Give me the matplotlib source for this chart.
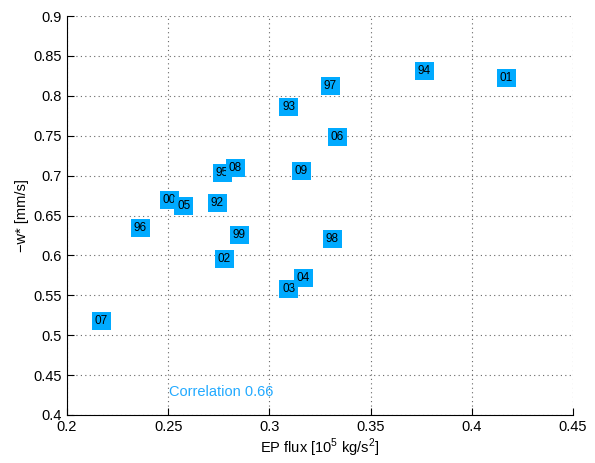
import matplotlib.pyplot as plt

# years and values
years = ["92", "93", "94", "95", "96", "97", "98", "99", "00",
         "01", "02", "03", "04", "05", "06", "07", "08", "09"]
ep_flux = [0.2711, 0.3064, 0.3734, 0.2734, 0.2330, 0.3269, 0.3279, 0.2819, 0.2474,
           0.4139, 0.2745, 0.3064, 0.3134, 0.2544, 0.3304, 0.2138, 0.2800, 0.3124]
w_star = [0.666, 0.786, 0.831, 0.703, 0.634, 0.812, 0.6206, 0.6256, 0.669,
          0.822, 0.5955, 0.558, 0.5717, 0.662, 0.748, 0.518, 0.7095, 0.706]
corr_text = "Correlation 0.66"

blue = "#00aaff"
plt.rcParams["font.family"] = ["Liberation Sans", "DejaVu Sans"]
plt.rcParams["mathtext.fontset"] = "custom"
plt.rcParams["mathtext.rm"] = "Liberation Sans"

fig = plt.figure(figsize=(5.95, 4.63), dpi=100)
ax = fig.add_axes([0.1126, 0.1037, 0.8504, 0.8617])

for yr, xv, yv in zip(years, ep_flux, w_star):
    ax.text(xv, yv, yr, fontsize=8.5, ha="left", va="center", color="black",
            bbox=dict(boxstyle="square,pad=0.25", fc=blue, ec="none"))

ax.text(0.2505, 0.429, corr_text, fontsize=10.5, color="#22aaff",
        ha="left", va="center")

ax.set_xlim(0.2, 0.45)
ax.set_ylim(0.4, 0.9)
xt = [0.2, 0.25, 0.3, 0.35, 0.4, 0.45]
yt = [0.4, 0.45, 0.5, 0.55, 0.6, 0.65, 0.7, 0.75, 0.8, 0.85, 0.9]
ax.set_xticks(xt)
ax.set_xticklabels([f"{v:g}" for v in xt])
ax.set_yticks(yt)
ax.set_yticklabels([f"{v:g}" for v in yt])
ax.tick_params(direction="in", length=5, labelsize=10.5)
ax.grid(True, linestyle=(0, (1, 3)), color="0.4", linewidth=0.8)
ax.spines["top"].set_visible(False)
ax.spines["right"].set_visible(False)
ax.set_xlabel("EP flux [10$^\\mathrm{5}$ kg/s$^\\mathrm{2}$]", fontsize=10.5, labelpad=2)
ax.set_ylabel("\u2212w* [mm/s]", fontsize=10.5, labelpad=3)

fig.savefig("out.png", dpi=100)
